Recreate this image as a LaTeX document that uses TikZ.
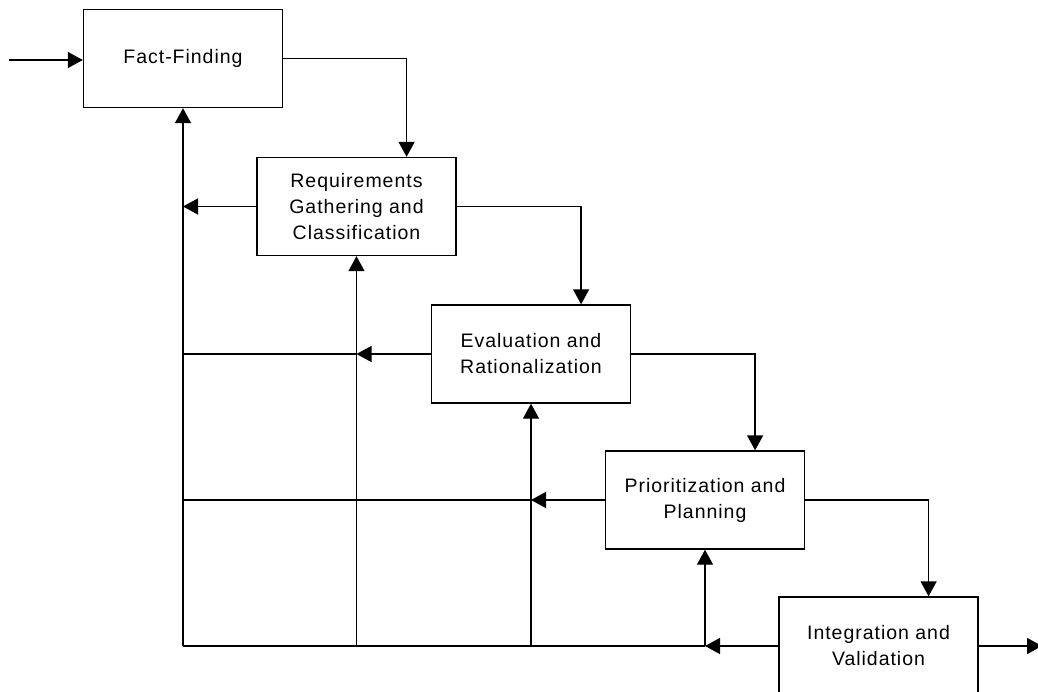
\documentclass[tikz,border=0pt]{standalone}
\usepackage{fontspec}
\setmainfont{Liberation Sans}[LetterSpace=5]
\usetikzlibrary{arrows.meta,calc}
\begin{document}
\begin{tikzpicture}[x=1pt,y=-1pt,
  stage/.style={draw, line width=1.4pt, minimum width=199pt, minimum height=98pt,
    inner sep=0pt, align=center, font=\fontsize{19.5}{26}\selectfont},
  link/.style={line width=1.4pt},
  flow/.style={link, -{Triangle[length=15pt,width=16pt]}}]
\useasboundingbox (0,0) rectangle (1038,692);

% process stages
\node[stage] (ff) at (183,58.5) {Fact-Finding};
\node[stage] (rg) at (356.5,206.5) {Requirements\\Gathering and\\Classification};
\node[stage] (er) at (531,354) {Evaluation and\\Rationalization};
\node[stage] (pp) at (705,500) {Prioritization and\\Planning};
\node[stage] (iv) at (878.5,646) {Integration and\\Validation};

% entry and exit
\coordinate (in) at (9,60);
\coordinate (out) at (1042,646);
\draw[flow] (in) -- (ff.west |- in);
\draw[flow] (iv.east) -- (out);

% forward flow, each stage feeds the next
\draw[flow] (ff.east) -| ($(rg.north)!0.5!(rg.north east)$);
\draw[flow] (rg.east) -| ($(er.north)!0.5!(er.north east)$);
\draw[flow] (er.east) -| ($(pp.north)!0.5!(pp.north east)$);
\draw[flow] (pp.east) -| ($(iv.north)!0.5!(iv.north east)$);

% feedback bus along the bottom
\coordinate (bl) at (iv.west -| ff.south);
\draw[flow] (iv.west) -- (iv.west -| pp.south);
\draw[link] (iv.west -| pp.south) -- (bl);

% risers from the bus to each earlier stage
\draw[flow] (bl) -- (ff.south);
\draw[flow] (iv.west -| rg.south) -- (rg.south);
\draw[flow] (iv.west -| er.south) -- (er.south);
\draw[flow] (iv.west -| pp.south) -- (pp.south);

% feedback from each stage back to the previous riser
\draw[flow] (rg.west) -- (rg.west -| ff.south);
\draw[flow] (er.west) -- (er.west -| rg.south);
\draw[link] (er.west -| rg.south) -- (er.west -| ff.south);
\draw[flow] (pp.west) -- (pp.west -| er.south);
\draw[link] (pp.west -| er.south) -- (pp.west -| ff.south);
\end{tikzpicture}
\end{document}
